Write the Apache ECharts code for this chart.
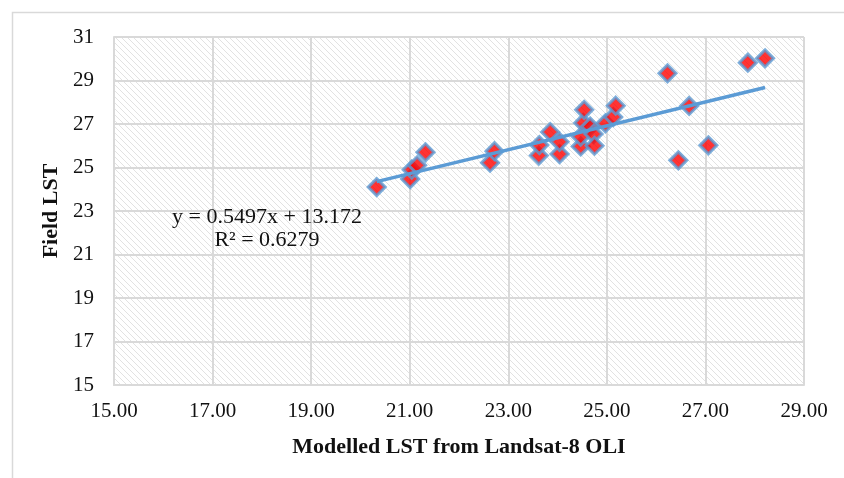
<!DOCTYPE html>
<html>
<head>
<meta charset="utf-8">
<script src="https://cdn.jsdelivr.net/npm/echarts@6/dist/echarts.min.js"></script>
<style>
  html, body { margin: 0; padding: 0; background: #fff; }
  #chart { width: 844px; height: 478px; }
</style>
</head>
<body>
<div id="chart"></div>
<script>
// 数据
const modelledLST = [20.33, 21.01, 21.04, 21.15, 21.32, 22.63, 22.72, 23.62, 23.63, 23.85,
  24.04, 24.04, 24.47, 24.47, 24.52, 24.54, 24.66, 24.73, 24.75, 24.97,
  25.13, 25.18, 26.23, 26.45, 26.67, 27.06, 27.86, 28.21]
const fieldLST = [24.10, 24.47, 24.90, 25.10, 25.70, 25.22, 25.75, 25.55, 26.03, 26.63,
  25.62, 26.18, 25.97, 26.42, 27.05, 27.65, 26.88, 26.54, 26.00, 27.03,
  27.32, 27.84, 29.33, 25.33, 27.83, 26.02, 29.82, 30.02]
const trendX = [20.33, 28.21]
const trendY = [24.35, 28.68]
const equationText = ['y = 0.5497x + 13.172', 'R² = 0.6279']

const points = modelledLST.map((x, i) => [x, fieldLST[i]])
const trend = trendX.map((x, i) => [x, trendY[i]])

// 斜线填充
function hatch() {
  const c = document.createElement('canvas')
  c.width = 6
  c.height = 6
  const ctx = c.getContext('2d')
  ctx.fillStyle = '#ffffff'
  ctx.fillRect(0, 0, 6, 6)
  ctx.fillStyle = '#e2e2e2'
  for (let i = 0; i < 6; i++) {
    ctx.fillRect(i, i, 1, 1)
  }
  return c
}

const font = 'Liberation Serif'
const gridColor = '#d9d9d9'

const myChart = echarts.init(document.getElementById('chart'))
myChart.setOption({
  backgroundColor: '#fff',
  animation: false,
  grid: {
    left: 114, right: 40, top: 37, bottom: 93,
    show: true,
    backgroundColor: { image: hatch(), repeat: 'repeat' },
    borderWidth: 0
  },
  graphic: [
    {
      type: 'rect', left: 10, top: 10, z: -1, silent: true,
      shape: { width: 900, height: 600 },
      style: { fill: 'none', stroke: gridColor, lineWidth: 1.5 }
    },
    {
      type: 'text', x: 267, y: 217, z: 10,
      style: { text: equationText[0], font: '22px ' + font, fill: '#111', align: 'center', verticalAlign: 'middle' }
    },
    {
      type: 'text', x: 267, y: 240, z: 10,
      style: { text: equationText[1], font: '22px ' + font, fill: '#111', align: 'center', verticalAlign: 'middle' }
    }
  ],
  xAxis: {
    type: 'value', min: 15, max: 29, interval: 2,
    name: 'Modelled LST from Landsat-8 OLI',
    nameLocation: 'middle', nameGap: 51,
    nameTextStyle: { fontFamily: font, fontSize: 22, fontWeight: 'bold', color: '#111' },
    axisLine: { show: true, lineStyle: { color: gridColor, width: 2 } },
    axisTick: { show: false },
    axisLabel: { fontFamily: font, fontSize: 21, color: '#111', margin: 16, formatter: v => v.toFixed(2) },
    splitLine: { show: true, lineStyle: { color: gridColor, width: 2 } }
  },
  yAxis: {
    type: 'value', min: 15, max: 31, interval: 2,
    name: 'Field LST',
    nameLocation: 'middle', nameGap: 50, nameRotate: 90,
    nameTextStyle: { fontFamily: font, fontSize: 22, fontWeight: 'bold', color: '#111' },
    axisLine: { show: true, lineStyle: { color: gridColor, width: 2 } },
    axisTick: { show: false },
    axisLabel: { fontFamily: font, fontSize: 21, color: '#111', margin: 20 },
    splitLine: { show: true, lineStyle: { color: gridColor, width: 2 } }
  },
  series: [
    {
      type: 'scatter',
      data: points,
      symbol: 'diamond',
      symbolSize: 17,
      itemStyle: { color: '#ff0000', borderColor: '#5b9bd5', borderWidth: 3 },
      z: 2
    },
    {
      type: 'line',
      data: trend,
      symbol: 'none',
      lineStyle: { color: '#5b9bd5', width: 3.5 },
      z: 3
    }
  ]
})
</script>
</body>
</html>
